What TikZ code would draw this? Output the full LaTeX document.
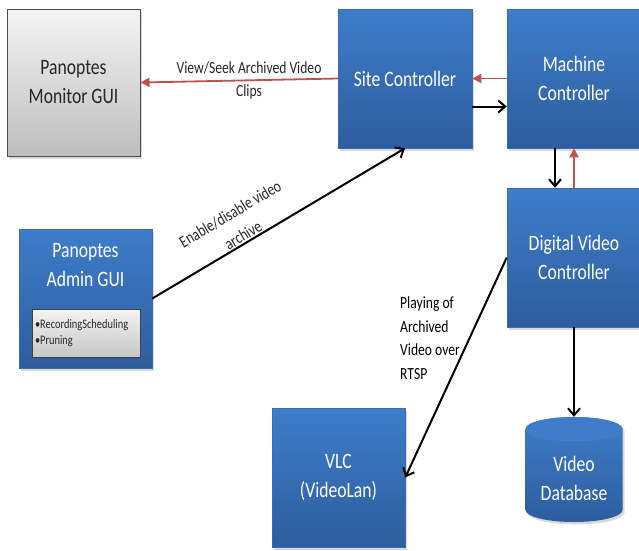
\documentclass[tikz,border=0pt]{standalone}
\usepackage{fontspec}
\setmainfont{Carlito}[FakeStretch=0.8]
\usetikzlibrary{arrows.meta,shadows,calc}

\definecolor{blueTop}{HTML}{3E7DCA}
\definecolor{blueBot}{HTML}{2D5D9E}
\definecolor{blueEdge}{HTML}{3A6DB0}
\definecolor{greyTop}{HTML}{F4F4F4}
\definecolor{greyBot}{HTML}{BEBEBE}
\definecolor{linkRed}{HTML}{C0504D}
\definecolor{darkText}{HTML}{262626}

\newcommand{\boxfont}{\fontsize{22}{29}\selectfont}
\newcommand{\labelfont}{\fontsize{17}{22}\selectfont}

\tikzset{
  softshadow/.style={drop shadow={opacity=0.3, shadow xshift=2pt, shadow yshift=-2.5pt}},
  bluebox/.style={rectangle, draw=blueEdge, line width=0.5pt,
    top color=blueTop, bottom color=blueBot, text=white,
    font=\boxfont, align=center, inner sep=0pt, softshadow},
  greybox/.style={rectangle, draw=black!70, line width=1pt,
    top color=greyTop, bottom color=greyBot, text=darkText,
    font=\boxfont, align=center, inner sep=0pt, softshadow},
  blkarrow/.style={line width=2pt, draw=black,
    -{Straight Barb[length=7pt,width=12pt,line width=2pt]}},
  redarrow/.style={line width=1.8pt, draw=linkRed,
    -{Triangle[length=9pt,width=9pt]}},
  linklabel/.style={font=\labelfont, text=darkText, align=center, inner sep=1pt},
}

\begin{document}
\begin{tikzpicture}[x=1pt, y=-1pt]
  \useasboundingbox (0,0) rectangle (639,550);

  % boxes
  \node[greybox, minimum width=133pt, minimum height=147pt] (monitor) at (73.5,82.5)
    {Panoptes\\Monitor GUI};
  \node[bluebox, minimum width=134pt, minimum height=139pt] (site) at (405,78.5)
    {Site Controller};
  \node[bluebox, minimum width=134pt, minimum height=139pt] (machine) at (574,78.5)
    {Machine\\Controller};
  \node[bluebox, minimum width=134pt, minimum height=139pt] (dvc) at (574,257.5)
    {Digital Video\\Controller};
  \node[bluebox, minimum width=133pt, minimum height=139pt] (vlc) at (338.5,477.5)
    {VLC\\(VideoLan)};

  % admin GUI with its task list
  \node[bluebox, minimum width=133pt, minimum height=139pt] (admin) at (85.5,298.5) {};
  \node[text=white, font=\boxfont, align=center] (admintitle) at (85.5,265)
    {Panoptes\\Admin GUI};
  \node[rectangle, draw=black!75, line width=0.8pt, top color=greyTop, bottom color=black!22,
        minimum width=108pt, minimum height=48pt, text width=102pt, align=left,
        font=\fontsize{13}{16}\selectfont, text=darkText, inner sep=0pt]
    (adminlist) at (86,333) {•RecordingScheduling\\•Pruning};

  % video database cylinder
  \shade[top color=blueTop, bottom color=blueBot, softshadow]
    (525.5,429) -- (525.5,510)
    arc[start angle=180, end angle=360, x radius=48.5pt, y radius=12pt]
    -- (622.5,429)
    arc[start angle=0, end angle=180, x radius=48.5pt, y radius=12pt] -- cycle;
  \fill[blueTop] (574,429) ellipse[x radius=48.5pt, y radius=12pt];
  \draw[blueBot!80, line width=0.4pt] (525.5,429)
    arc[start angle=180, end angle=360, x radius=48.5pt, y radius=12pt];
  \node[minimum width=97pt, minimum height=105pt, inner sep=0pt] (db) at (574,469.5) {};
  \node[text=white, font=\boxfont, align=center] (dbtext) at (574,478) {Video\\Database};

  % connectors
  \draw[redarrow] (site.west) -- (monitor.east)
    node[linklabel, pos=0.45] (viewlabel) {View/Seek Archived Video\\[1pt]Clips};
  \draw[redarrow] (machine.west) -- (site.east);
  \draw[blkarrow] ([yshift=-28pt]site.east) -- ([yshift=-28pt]site.east -| machine.west);
  \draw[blkarrow] ([xshift=-19pt]machine.south) -- ([xshift=-19pt]machine.south |- dvc.north);
  \draw[redarrow] (dvc.north -| machine.south) -- (machine.south);
  \draw[blkarrow] (admin.east) -- (site.south)
    node[linklabel, pos=0.375, sloped, above] (enablelabel) {Enable/disable video\\[3pt]archive};
  \draw[blkarrow] (dvc.west) -- (vlc.east);
  \node[font=\fontsize{17}{23.5}\selectfont, text=black, align=left, anchor=west, inner sep=0pt]
    (rtsplabel) at (400,338) {Playing of\\Archived\\Video over\\RTSP};
  \draw[blkarrow] (dvc.south) -- (dvc.south |- db.north);
\end{tikzpicture}
\end{document}
